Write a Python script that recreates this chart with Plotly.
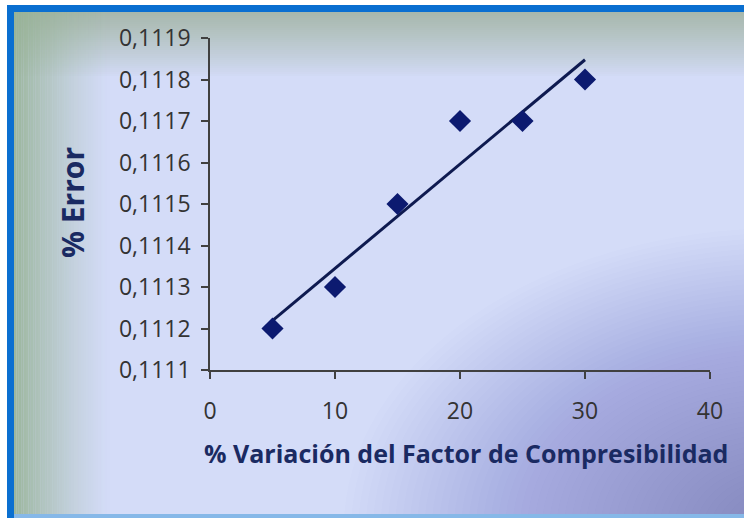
import numpy as np
import plotly.graph_objects as go

# ---- data ----
variacion = [5, 10, 15, 20, 25, 30]
error_pct = [0.1112, 0.1113, 0.1115, 0.1117, 0.1117, 0.1118]
x_ticks = [0, 10, 20, 30, 40]
y_ticks = [0.1111, 0.1112, 0.1113, 0.1114, 0.1115, 0.1116, 0.1117, 0.1118, 0.1119]
x_title = "% Variación del Factor de Compresibilidad"
y_title = "% Error"

# linear trend line (least squares)
slope, intercept = np.polyfit(variacion, error_pct, 1)
trend_x = [min(variacion), max(variacion)]
trend_y = [slope * v + intercept for v in trend_x]

W, H = 744, 518
ML, MR, MT, MB = 210, 34, 38, 148
PW, PH = W - ML - MR, H - MT - MB


def px(xp):
    return (xp - ML) / PW


def py(yp):
    return (H - MB - yp) / PH


shapes = []


def rect(x0, y0, x1, y1, color, layer="below"):
    shapes.append(dict(type="rect", xref="paper", yref="paper",
                       x0=px(x0), x1=px(x1), y0=py(y1), y1=py(y0),
                       fillcolor=color, line=dict(width=0), layer=layer))


# border + base
rect(7, 5, W + 2, H + 2, "#0a6fd0")
rect(14, 12, W + 2, H - 4, "#d4dcf8")

# bottom-right darkening (stacked ellipses)
n = 60
for i in range(n):
    f = 1 - i / n
    rx, ry = 440 * f, 300 * f
    shapes.append(dict(type="circle", xref="paper", yref="paper",
                       x0=px(W + 40 - rx), x1=px(W + 40 + rx),
                       y0=py(H + 10 + ry), y1=py(H + 10 - ry),
                       fillcolor="rgba(100,100,188,0.012)", line=dict(width=0),
                       layer="below"))
rect(14, H - 4, W + 2, H + 2, "#86b8e8")

# top band
top0, top1 = 12, 76
steps = 32
for i in range(steps):
    y0 = top0 + (top1 - top0) * i / steps
    y1 = top0 + (top1 - top0) * (i + 1) / steps
    a = 0.9 * (1 - i / steps) ** 0.9
    rect(14, y0, W + 2, y1, f"rgba(162,180,164,{a:.3f})")

# left band
l0, l1 = 14, 110
steps = 40
for i in range(steps):
    x0 = l0 + (l1 - l0) * i / steps
    x1 = l0 + (l1 - l0) * (i + 1) / steps
    a = 0.9 * (1 - i / steps) ** 1.3
    rect(x0, 12, x1, H - 4, f"rgba(150,178,148,{a:.3f})")

fig = go.Figure()
fig.add_trace(go.Scatter(x=trend_x, y=trend_y, mode="lines",
                         line=dict(color="#0e1a50", width=3),
                         hoverinfo="skip", showlegend=False))
fig.add_trace(go.Scatter(x=variacion, y=error_pct, mode="markers",
                         marker=dict(symbol="diamond", size=17, color="#0c1a70",
                                     line=dict(width=0)),
                         showlegend=False))

tick_font = dict(family="Open Sans, sans-serif", size=23, color="#333333")
fig.update_xaxes(range=[0, 40], tickvals=x_ticks, ticks="outside", ticklen=7,
                 tickwidth=1.5, tickcolor="#404040", showline=True,
                 linecolor="#404040", linewidth=1.5, showgrid=False,
                 zeroline=False, tickfont=tick_font, ticklabelstandoff=13)
fig.update_yaxes(range=[0.1111, 0.1119], tickvals=y_ticks, tickformat=".4f",
                 ticks="outside", ticklen=7, tickwidth=1.5, tickcolor="#404040",
                 showline=True, linecolor="#404040", linewidth=1.5,
                 showgrid=False, zeroline=False, tickfont=tick_font,
                 ticklabelstandoff=6)

title_font = dict(family="Open Sans, sans-serif", size=25, color="#1a2a62",
                  weight="bold")
fig.add_annotation(text=x_title, xref="paper", yref="paper", x=px(466), y=py(453),
                   showarrow=False, font=title_font, xanchor="center",
                   yanchor="middle")
fig.add_annotation(text=y_title, xref="paper", yref="paper", x=px(72), y=py(203),
                   showarrow=False, font=dict(title_font, size=30), textangle=-90,
                   xanchor="center", yanchor="middle")

fig.update_layout(width=W, height=H,
                  margin=dict(l=ML, r=MR, t=MT, b=MB),
                  paper_bgcolor="white", plot_bgcolor="rgba(0,0,0,0)",
                  separators=",.", shapes=shapes, showlegend=False)

fig.write_html("out.html")
